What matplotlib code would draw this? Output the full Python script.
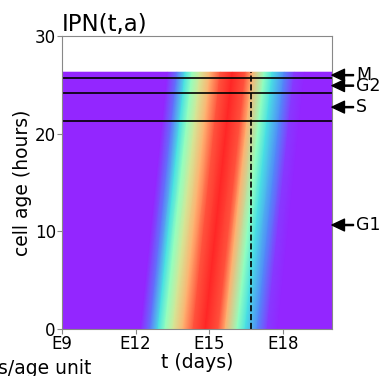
import numpy as np
import matplotlib
matplotlib.use("Agg")
import matplotlib.pyplot as plt
from matplotlib.colors import ListedColormap

# density profile along t (days) for newborn cells (age 0), scaled 0..1
prof_t = [7.5, 12.2, 12.59, 12.92, 13.2, 13.53, 13.94, 14.35, 14.84, 15.37,
          15.65, 16.14, 16.47, 16.96, 17.37, 17.8, 21.5]
prof_v = [0.0, 0.0, 0.12, 0.33, 0.5, 0.65, 0.78, 0.93, 1.0, 0.93,
          0.78, 0.5, 0.33, 0.15, 0.03, 0.0, 0.0]

age_max = 26.3          # hours, top of the cycle
phase_bounds = [21.3, 24.15, 25.7]
phase_names = ["G1", "S", "G2", "M"]
t_now = 16.7

xticks = [9, 12, 15, 18]
xticklabels = ["E9", "E12", "E15", "E18"]
yticks = [0, 10, 20, 30]

# rainbow, slightly washed out (as if drawn with alpha over white)
base = plt.get_cmap("rainbow")(np.linspace(0, 1, 256))
base[:, :3] = 0.85 * base[:, :3] + 0.15
cmap = ListedColormap(base)

fig = plt.figure(figsize=(3.84, 3.76), dpi=100)
ax = fig.add_axes([0.1615, 0.125, 0.703, 0.779])

# sheared mesh: cells age 1 hour per hour, so the wave drifts a/24 days
ages = np.array([0.0, age_max])
T = np.array(prof_t)[None, :] + ages[:, None] / 24.0
A = np.repeat(ages[:, None], len(prof_t), axis=1)
V = np.repeat(np.array(prof_v)[None, :], 2, axis=0)
ax.pcolormesh(T, A, V, shading="gouraud", cmap=cmap, vmin=0, vmax=1)

for b in phase_bounds:
    ax.axhline(b, color="black", lw=1.2)
ax.plot([t_now, t_now], [0, age_max], "--", color="black", lw=1.2)

edges = [0] + phase_bounds + [age_max]
for i, name in enumerate(phase_names):
    mid = (edges[i] + edges[i + 1]) / 2
    ax.annotate(name, xy=(1.0, mid), xycoords=("axes fraction", "data"),
                xytext=(1.09, mid), textcoords=("axes fraction", "data"),
                va="center", ha="left", fontsize=12.5, annotation_clip=False,
                arrowprops=dict(facecolor="black", edgecolor="black", width=0.8,
                                headwidth=8.5, headlength=9, shrink=0))

ax.set_xlim(9, 20)
ax.set_ylim(0, 30)
ax.set_xticks(xticks)
ax.set_xticklabels(xticklabels, fontsize=12)
ax.set_yticks(yticks)
ax.set_yticklabels([str(v) for v in yticks], fontsize=12)
for s in ax.spines.values():
    s.set_color("#888888")
ax.tick_params(color="#888888", length=3.5, pad=1)

ax.set_xlabel("t (days)", fontsize=13.5, labelpad=0)
ax.set_ylabel("cell age (hours)", fontsize=13.5, labelpad=2)
ax.set_title("IPN(t,a)", loc="left", fontsize=16.5, pad=4)

fig.text(91 / 384, 1 - 368 / 376, "cells/age unit", ha="right", va="center", fontsize=13.5)

fig.savefig("out.png", dpi=100)
